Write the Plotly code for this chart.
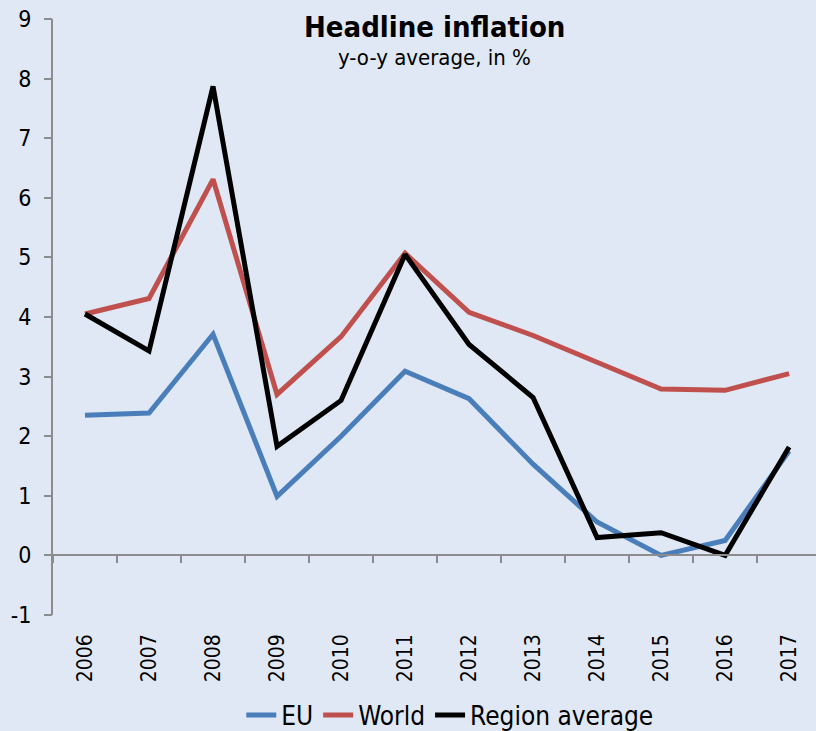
import plotly.graph_objects as go

# Headline inflation, y-o-y average in %
years = ["2006", "2007", "2008", "2009", "2010", "2011",
         "2012", "2013", "2014", "2015", "2016", "2017"]
eu = [2.35, 2.39, 3.71, 0.99, 2.00, 3.09, 2.63, 1.53, 0.56, 0.00, 0.25, 1.75]
world = [4.05, 4.31, 6.31, 2.70, 3.67, 5.07, 4.08, 3.69, 3.24, 2.79, 2.77, 3.05]
region_avg = [4.05, 3.43, 7.87, 1.83, 2.60, 5.05, 3.54, 2.65, 0.30, 0.38, 0.00, 1.82]

y_ticks = list(range(-1, 10))
y_tick_text = [str(v) for v in y_ticks]

BG = "#DFE8F4"
AXIS = "#8C8C8C"
FONT = "DejaVu Sans Condensed"

fig = go.Figure()

series = [
    ("EU", eu, "#4A7EBB"),
    ("World", world, "#C0504D"),
    ("Region average", region_avg, "#000000"),
]
for name, vals, color in series:
    fig.add_trace(go.Scatter(
        x=years, y=vals, name=name, mode="lines",
        line=dict(color=color, width=5),
        xaxis="x", yaxis="y",
    ))

# empty trace carrying the overlay axes: zero-level category line with
# boundary ticks, and the value-axis tick marks
fig.add_trace(go.Scatter(
    x=years, y=[None] * len(years), xaxis="x2", yaxis="y2",
    mode="lines", showlegend=False, hoverinfo="skip",
))

x_range = [-0.5, 11.42]
y_range = [-1, 9]

fig.update_layout(
    width=816, height=731,
    margin=dict(l=53, r=0, t=19, b=116, autoexpand=False),
    paper_bgcolor=BG, plot_bgcolor=BG,
    font=dict(family=FONT, color="#000000", size=22),
    showlegend=True,
    legend=dict(
        orientation="h", x=0.52, xanchor="center", y=-0.168, yanchor="middle",
        font=dict(size=26, family=FONT), bgcolor="rgba(0,0,0,0)",
        traceorder="normal", itemwidth=30,
    ),
    xaxis=dict(
        type="category", range=x_range, showline=False, showgrid=False,
        zeroline=False, ticks="", tickangle=-90, automargin=False,
        tickfont=dict(size=21, family=FONT),
        ticklabelstandoff=14,
    ),
    xaxis2=dict(
        type="category", overlaying="x", anchor="free", position=0.1,
        range=x_range, showline=True, linecolor=AXIS, linewidth=2,
        ticks="outside", tickson="boundaries", ticklen=7, tickcolor=AXIS,
        tickwidth=2, showticklabels=False, showgrid=False, zeroline=False,
        automargin=False,
    ),
    yaxis=dict(
        range=y_range, tickvals=y_ticks, ticktext=y_tick_text,
        showgrid=False, zeroline=False,
        showline=True, linecolor=AXIS, linewidth=2, ticks="",
        ticklabelstandoff=15, automargin=False,
        tickfont=dict(size=23, family=FONT),
    ),
    yaxis2=dict(
        overlaying="y", anchor="x", side="left", range=y_range,
        tickvals=y_ticks, showticklabels=False, showgrid=False,
        zeroline=False, showline=False,
        ticks="outside", ticklen=8, tickcolor=AXIS, tickwidth=2,
        automargin=False,
    ),
    annotations=[
        dict(text="<b>Headline inflation</b>", xref="paper", yref="paper",
             x=0.5, y=0.9866, xanchor="center", yanchor="middle",
             showarrow=False, font=dict(size=29, family=FONT)),
        dict(text="y-o-y average, in %", xref="paper", yref="paper",
             x=0.5, y=0.9346, xanchor="center", yanchor="middle",
             showarrow=False, font=dict(size=22, family=FONT)),
    ],
)

fig.write_html("out.html")
